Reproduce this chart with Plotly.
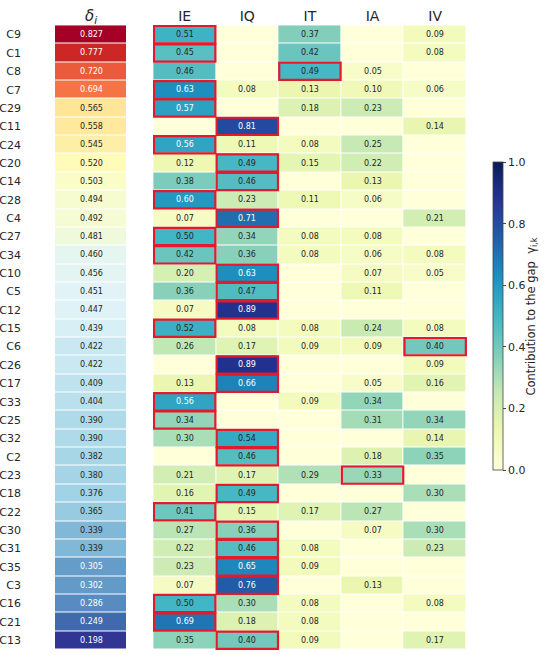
import plotly.graph_objects as go
from plotly.colors import get_colorscale, sample_colorscale, unlabel_rgb

# rows, top to bottom
rows = ["C9", "C1", "C8", "C7", "C29", "C11", "C24", "C20", "C14", "C28", "C4",
        "C27", "C34", "C10", "C5", "C12", "C15", "C6", "C26", "C17", "C33", "C25",
        "C32", "C2", "C23", "C18", "C22", "C30", "C31", "C35", "C3", "C16", "C21", "C13"]
delta = [0.827, 0.777, 0.720, 0.694, 0.565, 0.558, 0.545, 0.520, 0.503, 0.494, 0.492,
         0.481, 0.460, 0.456, 0.451, 0.447, 0.439, 0.422, 0.422, 0.409, 0.404, 0.390,
         0.390, 0.382, 0.380, 0.376, 0.365, 0.339, 0.339, 0.305, 0.302, 0.286, 0.249, 0.198]
cols = ["IE", "IQ", "IT", "IA", "IV"]
# blank cells in the picture -> 0
IE = [0.51, 0.45, 0.46, 0.63, 0.57, 0, 0.56, 0.12, 0.38, 0.60, 0.07,
      0.50, 0.42, 0.20, 0.36, 0.07, 0.52, 0.26, 0, 0.13, 0.56, 0.34,
      0.30, 0, 0.21, 0.16, 0.41, 0.27, 0.22, 0.23, 0.07, 0.50, 0.69, 0.35]
IQ = [0, 0, 0, 0.08, 0, 0.81, 0.11, 0.49, 0.46, 0.23, 0.71,
      0.34, 0.36, 0.63, 0.47, 0.89, 0.08, 0.17, 0.89, 0.66, 0, 0,
      0.54, 0.46, 0.17, 0.49, 0.15, 0.36, 0.46, 0.65, 0.76, 0.30, 0.18, 0.40]
IT = [0.37, 0.42, 0.49, 0.13, 0.18, 0, 0.08, 0.15, 0, 0.11, 0,
      0.08, 0.08, 0, 0, 0, 0.08, 0.09, 0, 0, 0.09, 0,
      0, 0, 0.29, 0, 0.17, 0, 0.08, 0.09, 0, 0.08, 0.08, 0.09]
IA = [0, 0, 0.05, 0.10, 0.23, 0, 0.25, 0.22, 0.13, 0.06, 0,
      0.08, 0.06, 0.07, 0.11, 0, 0.24, 0.09, 0, 0.05, 0.34, 0.31,
      0, 0.18, 0.33, 0, 0.27, 0.07, 0, 0, 0.13, 0, 0, 0]
IV = [0.09, 0.08, 0, 0.06, 0, 0.14, 0, 0, 0, 0, 0.21,
      0, 0.08, 0.05, 0, 0, 0.08, 0.40, 0.09, 0.16, 0, 0.34,
      0.14, 0.35, 0, 0.30, 0, 0.30, 0.23, 0, 0, 0.08, 0, 0.17]

gamma = [list(r) for r in zip(IE, IQ, IT, IA, IV)]
FONT = "DejaVu Sans"
DARK = "#262626"


def text_color(cscale, t):
    # dark text on light cells, white on dark ones
    r, g, b = unlabel_rgb(sample_colorscale(cscale, [min(max(t, 0), 1)])[0])
    lin = []
    for c in (r, g, b):
        c = c / 255
        lin.append(c / 12.92 if c <= 0.03928 else ((c + 0.055) / 1.055) ** 2.4)
    lum = 0.2126 * lin[0] + 0.7152 * lin[1] + 0.0722 * lin[2]
    return DARK if lum > 0.408 else "white"


rdylbu = get_colorscale("RdYlBu_r")
dmin, dmax = min(delta), max(delta)

fig = go.Figure()
fig.add_trace(go.Heatmap(
    z=[[d] for d in delta], x=["δ"], y=rows, colorscale="RdYlBu_r",
    zmin=dmin, zmax=dmax, showscale=False, xgap=1, ygap=1,
    xaxis="x", yaxis="y", hoverinfo="skip"))
fig.add_trace(go.Heatmap(
    z=gamma, x=cols, y=rows, colorscale="YlGnBu", zmin=0, zmax=1,
    xgap=1, ygap=1, xaxis="x2", yaxis="y2",
    colorbar=dict(x=0.878, xanchor="left", y=0.267, yanchor="bottom",
                  len=0.5, lenmode="fraction", thickness=10,
                  outlinewidth=0.8, outlinecolor="#444",
                  tickvals=[0, 0.2, 0.4, 0.6, 0.8, 1.0], tickformat=".1f",
                  ticks="outside", ticklen=3, tickcolor="#444",
                  tickfont=dict(size=11, color=DARK, family=FONT))))

annotations = []
for i, name in enumerate(rows):
    annotations.append(dict(
        x="δ", y=name, xref="x", yref="y", text=f"{delta[i]:.3f}", showarrow=False,
        font=dict(size=8, family=FONT,
                  color=text_color(rdylbu, (delta[i] - dmin) / (dmax - dmin)))))
    for j, c in enumerate(cols):
        v = gamma[i][j]
        if v > 0:
            annotations.append(dict(
                x=c, y=name, xref="x2", yref="y2", text=f"{v:.2f}", showarrow=False,
                font=dict(size=8, family=FONT,
                          color="white" if v > 0.55 else DARK)))

# colorbar label
annotations.append(dict(
    x=0.983, y=0.517, xref="paper", yref="paper", textangle=-90, showarrow=False,
    text="Contribution to the gap  γ<sub>i,k</sub>",
    font=dict(size=11.5, color=DARK, family=FONT)))

# red box around the largest contribution in each row
shapes = []
for i, row in enumerate(gamma):
    j = row.index(max(row))
    shapes.append(dict(type="rect", xref="x2", yref="y2",
                       x0=j - 0.49, x1=j + 0.49, y0=i - 0.47, y1=i + 0.47,
                       line=dict(color="#e31a2c", width=2.2)))

fig.update_layout(
    width=550, height=655, margin=dict(l=0, r=0, t=0, b=0),
    paper_bgcolor="white", plot_bgcolor="white",
    font=dict(family=FONT, color=DARK),
    annotations=annotations, shapes=shapes,
    xaxis=dict(domain=[0.1, 0.231], side="top", showgrid=False, zeroline=False,
               tickvals=["δ"], ticktext=["<i>δ<sub>i</sub></i>"],
               tickfont=dict(size=15), ticks="", anchor="y", automargin=False),
    yaxis=dict(domain=[0.0076, 0.962], autorange="reversed", showgrid=False,
               zeroline=False, ticks="", tickfont=dict(size=11),
               ticklabelstandoff=33, anchor="x", automargin=False),
    xaxis2=dict(domain=[0.278, 0.849], side="top", showgrid=False, zeroline=False,
                ticks="", tickfont=dict(size=14), anchor="y2", automargin=False),
    yaxis2=dict(domain=[0.0076, 0.962], matches="y", showticklabels=False,
                showgrid=False, zeroline=False, ticks="", anchor="x2",
                automargin=False),
)

fig.write_html("out.html", config={"displayModeBar": False},
               post_script="document.body.style.margin = '0';")
